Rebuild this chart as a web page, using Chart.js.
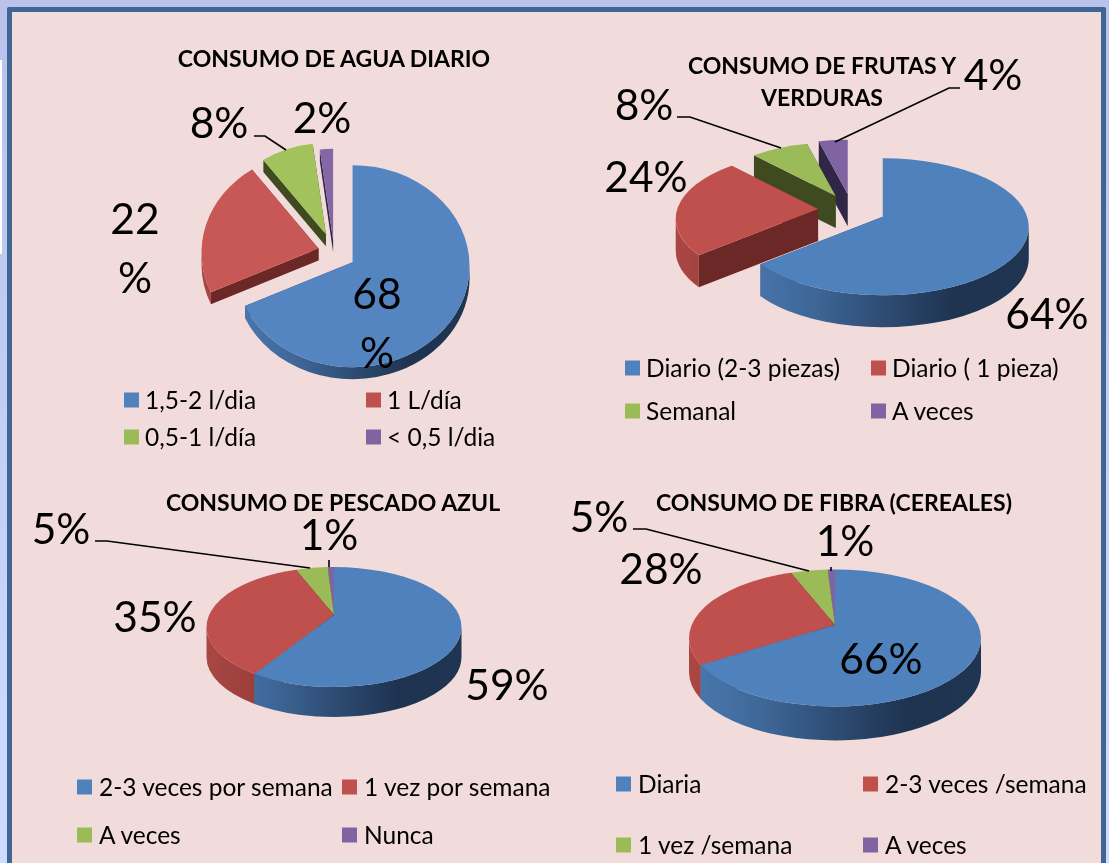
<!DOCTYPE html>
<html>
<head>
<meta charset="utf-8">
<title>Consumo</title>
<script src="https://cdn.jsdelivr.net/npm/chart.js@4"></script>
<style>
  html, body { margin: 0; padding: 0; }
  body {
    width: 1109px; height: 863px; overflow: hidden; position: relative;
    background: linear-gradient(#b8c2eb, #d0dcff);
    font-family: Lato, "Open Sans", sans-serif; color: #000;
  }
  #frame {
    position: absolute; left: 7px; top: 7px; width: 1089px; height: 870px;
    background: #f2dcdb; border: 5px solid #3f6595; border-radius: 2px;
  }
  #strip { position: absolute; left: 0; top: 60px; width: 2px; height: 194px; background: #fff; }
  canvas { position: absolute; }
  .t { position: absolute; white-space: nowrap; transform: translate(-50%, -50%); }
  .title { font-weight: 700; font-size: 23px; line-height: 32px; text-align: center; }
  .val { font-size: 42.5px; line-height: 50px; }
  .leg { position: absolute; white-space: nowrap; font-size: 24.5px; line-height: 28px; transform: translateY(-50%); }
  .swatch { position: absolute; width: 15px; height: 15px; transform: translateY(-50%); }
</style>
</head>
<body>
<div id="strip"></div>
<div id="frame"></div>
<script>
// values
const aguaLabels = ["1,5-2 l/dia", "1 L/día", "0,5-1 l/día", "< 0,5 l/dia"];
const aguaValues = [68, 22, 8, 2];
const frutasLabels = ["Diario (2-3 piezas)", "Diario ( 1 pieza)", "Semanal", "A veces"];
const frutasValues = [64, 24, 8, 4];
const pescadoLabels = ["2-3 veces por semana", "1 vez por semana", "A veces", "Nunca"];
const pescadoValues = [59, 35, 5, 1];
const fibraLabels = ["Diaria", "2-3 veces /semana", "1 vez /semana", "A veces"];
const fibraValues = [66, 28, 5, 1];

const legendColors = ["#4f81bd", "#c0504d", "#9bbb59", "#8064a2"];
const cutColors = ["#2f4a70", "#6b2827", "#3f4a20", "#2f2745"];

// layout of each panel, in page pixels
const panels = [
  {
    title: ["CONSUMO DE AGUA DIARIO"], titleAt: [334, 58],
    labels: aguaLabels, values: aguaValues,
    center: [334, 252], rx: 117, ry: 101, rise: 4, depth: 12,
    explode: [22, 16, 22, 14], scale: [1, 1, 0.94, 0.94],
    faces: ["#5585c1", "#c85856", "#a2c25c", "#8567a5"],
    valueAt: [[377, 293, 377, 352], [135, 218, 135, 277], [219, 122], [322, 117]],
    leaders: [[[254, 136], [265, 136], [286, 150]]],
    legendX: [124, 366], legendY: [400, 437], textGap: 21,
  },
  {
    title: ["CONSUMO DE FRUTAS Y", "VERDURAS"], titleAt: [822, 81],
    labels: frutasLabels, values: frutasValues,
    center: [852, 210], rx: 146, ry: 68.5, rise: 10, depth: 32,
    explode: [34, 34, 34, 34], scale: [1, 0.975, 0.92, 0.93],
    faces: legendColors,
    valueAt: [[1047, 313], [646, 176], [644, 104], [993, 74]],
    leaders: [[[677, 117], [690, 117], [781, 148]], [[960, 88], [949, 88], [835, 142]]],
    legendX: [625, 871], legendY: [368, 411], textGap: 21,
  },
  {
    title: ["CONSUMO DE PESCADO AZUL"], titleAt: [333, 502],
    labels: pescadoLabels, values: pescadoValues,
    center: [334, 615], rx: 127.5, ry: 60, rise: 12, depth: 30,
    explode: [0, 0, 0, 0], scale: [1, 1, 1, 1],
    faces: legendColors,
    valueAt: [[507, 684], [155, 616], [61, 528], [329, 534]],
    leaders: [[[95, 541], [107, 541], [310, 568]], [[329, 560], [329, 567]]],
    legendX: [77, 342], legendY: [787, 835], textGap: 22,
  },
  {
    title: ["CONSUMO DE FIBRA (CEREALES)"], titleAt: [834, 502],
    labels: fibraLabels, values: fibraValues,
    center: [835, 625], rx: 146, ry: 68.5, rise: 13, depth: 34,
    explode: [0, 0, 0, 0], scale: [1, 1, 1, 1],
    faces: legendColors,
    valueAt: [[881, 658], [661, 568], [599, 516], [845, 540]],
    leaders: [[[633, 529], [646, 529], [809, 571]], [[831, 567], [831, 571]]],
    legendX: [616, 863], legendY: [784, 845], textGap: 22,
  },
];

const CANVAS_W = 640;
const CANVAS_H = 460;

// where a slice edge meets the rim: the ray leaves the apex, which sits above the ellipse centre
function rimAngle(a, delta) {
  const c = Math.cos(a), s = Math.sin(a);
  const t = -delta * c + Math.sqrt(delta * delta * c * c + 1 - delta * delta);
  return Math.atan2(t * s, delta + t * c);
}

function wallGradient(ctx, x0, x1, stops) {
  const g = ctx.createLinearGradient(x0, 0, x1, 0);
  stops.forEach((c, i) => g.addColorStop(i / (stops.length - 1), c));
  return g;
}

// Draws the arcs laid out by the pie controller as a tilted, extruded pie
const pie3d = {
  id: "pie3d",
  beforeDatasetsDraw(chart, args, opts) {
    const ctx = chart.ctx;
    const k = opts.ry / opts.rx;
    const delta = opts.rise / opts.ry;
    const wallStops = [
      ["#4a78ae", "#3f6899", "#2e4c73", "#1e3350", "#1f3552"],
      ["#a94744", "#963c3a", "#8a3634", "#6b2827", "#6b2827"],
      ["#6f8a3f", "#5a7033", "#3f4a20", "#3f4a20", "#3f4a20"],
      ["#5f4a7c", "#4c3a64", "#2f2745", "#2f2745", "#2f2745"],
    ];

    const slices = chart.getDatasetMeta(0).data.map((el, i) => {
      const a1 = el.startAngle + Math.PI / 2;
      const a2 = el.endAngle + Math.PI / 2;
      const mid = (a1 + a2) / 2;
      const ax = el.x + opts.explode[i] * Math.sin(mid);
      const ay = el.y - opts.explode[i] * Math.cos(mid) * k;
      return { i, a1, a2, ax, ay, r: el.outerRadius, back: Math.cos(mid) };
    });
    // paint from the back of the pie to the front
    slices.sort((p, q) => q.back - p.back);

    slices.forEach((s) => {
      const sc = opts.scale[s.i];
      const ex = s.ax;
      const ey = s.ay + opts.rise * sc;
      const rx = s.r * sc;
      const ry = opts.ry * sc;
      let p1 = rimAngle(s.a1, delta);
      let p2 = rimAngle(s.a2, delta);
      if (p1 < 0) p1 += 2 * Math.PI;
      if (p2 <= 0) p2 += 2 * Math.PI;
      const px = (p) => ex + rx * Math.sin(p);
      const py = (p) => ey - ry * Math.cos(p);

      // cut faces
      ctx.fillStyle = cutColors[s.i];
      [p1, p2].forEach((p) => {
        ctx.beginPath();
        ctx.moveTo(s.ax, s.ay);
        ctx.lineTo(px(p), py(p));
        ctx.lineTo(px(p), py(p) + opts.depth);
        ctx.lineTo(s.ax, s.ay + opts.depth);
        ctx.closePath();
        ctx.fill();
      });

      // outer wall, front half of the rim only
      const from = Math.max(p1, Math.PI / 2);
      const to = Math.min(p2, 1.5 * Math.PI);
      if (to > from) {
        ctx.fillStyle = wallGradient(ctx, ex - rx, ex + rx, wallStops[s.i]);
        ctx.beginPath();
        ctx.ellipse(ex, ey, rx, ry, 0, from - Math.PI / 2, to - Math.PI / 2);
        ctx.ellipse(ex, ey + opts.depth, rx, ry, 0, to - Math.PI / 2, from - Math.PI / 2, true);
        ctx.closePath();
        ctx.fill();
      }

      // top face
      ctx.fillStyle = opts.faces[s.i];
      ctx.beginPath();
      ctx.moveTo(s.ax, s.ay);
      ctx.ellipse(ex, ey, rx, ry, 0, p1 - Math.PI / 2, p2 - Math.PI / 2);
      ctx.closePath();
      ctx.fill();
    });
    return false; // the default flat arcs are replaced by the above
  },
  afterDraw(chart, args, opts) {
    const ctx = chart.ctx;
    ctx.strokeStyle = "#000";
    ctx.lineWidth = 1.6;
    opts.leaders.forEach((line) => {
      ctx.beginPath();
      line.forEach(([x, y], n) => {
        const cx = x - opts.originX, cy = y - opts.originY;
        if (n === 0) ctx.moveTo(cx, cy); else ctx.lineTo(cx, cy);
      });
      ctx.stroke();
    });
  },
};

function addText(cls, text, x, y) {
  const el = document.createElement("div");
  el.className = cls;
  el.style.left = x + "px";
  el.style.top = y + "px";
  el.textContent = text;
  document.body.appendChild(el);
  return el;
}

panels.forEach((p) => {
  const left = p.center[0] - CANVAS_W / 2;
  const top = p.center[1] - CANVAS_H / 2;
  const canvas = document.createElement("canvas");
  canvas.width = CANVAS_W;
  canvas.height = CANVAS_H;
  canvas.style.left = left + "px";
  canvas.style.top = top + "px";
  document.body.appendChild(canvas);

  new Chart(canvas.getContext("2d"), {
    type: "pie",
    data: {
      labels: p.labels,
      datasets: [{ data: p.values, backgroundColor: legendColors, radius: p.rx, borderWidth: 0 }],
    },
    options: {
      responsive: false,
      animation: false,
      plugins: {
        legend: { display: false },
        tooltip: { enabled: false },
        pie3d: {
          rx: p.rx, ry: p.ry, rise: p.rise, depth: p.depth,
          explode: p.explode, scale: p.scale, faces: p.faces, leaders: p.leaders,
          originX: left, originY: top,
        },
      },
    },
    plugins: [pie3d],
  });

  // title
  const title = addText("t title", "", p.titleAt[0], p.titleAt[1]);
  title.innerHTML = p.title.join("<br>");

  // value labels, a few of them wrap the % sign onto a second line as in the original
  p.values.forEach((v, i) => {
    const at = p.valueAt[i];
    if (at.length === 4) {
      addText("t val", String(v), at[0], at[1]);
      addText("t val", "%", at[2], at[3]);
    } else {
      addText("t val", v + "%", at[0], at[1]);
    }
  });

  // legend, two columns by two rows
  p.labels.forEach((label, i) => {
    const x = p.legendX[i % 2];
    const y = p.legendY[Math.floor(i / 2)];
    const sw = document.createElement("div");
    sw.className = "swatch";
    sw.style.left = x + "px";
    sw.style.top = y + "px";
    sw.style.background = legendColors[i];
    document.body.appendChild(sw);
    addText("leg", label, x + p.textGap, y);
  });
});
</script>
</body>
</html>
